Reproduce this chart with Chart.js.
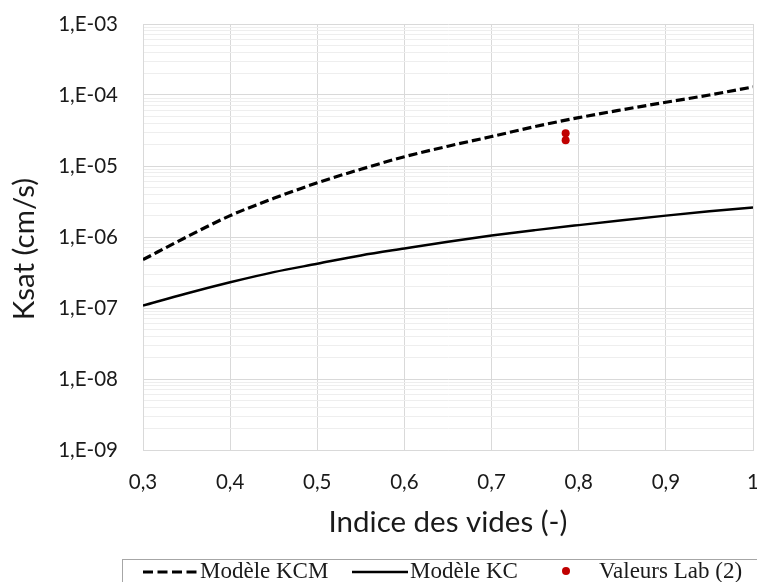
<!DOCTYPE html>
<html>
<head>
<meta charset="utf-8">
<script src="https://cdn.jsdelivr.net/npm/chart.js@4/dist/chart.umd.min.js"></script>
<style>
  html, body { margin: 0; padding: 0; background: #fff; }
</style>
</head>
<body>
<canvas id="chartKsat" width="757" height="582"></canvas>
<script>
// indice des vides (e) and Ksat (cm/s)
const indiceVides = [0.30, 0.35, 0.40, 0.45, 0.50, 0.55, 0.60, 0.65, 0.70, 0.75, 0.80, 0.85, 0.90, 0.95, 1.00];
const ksatKCM = [4.8e-7, 1.0e-6, 2.0e-6, 3.5e-6, 5.8e-6, 9.0e-6, 1.35e-5, 1.9e-5, 2.6e-5, 3.6e-5, 4.8e-5, 6.2e-5, 7.9e-5, 1.0e-4, 1.3e-4];
const ksatKC = [1.08e-7, 1.6e-7, 2.3e-7, 3.2e-7, 4.2e-7, 5.5e-7, 6.9e-7, 8.6e-7, 1.05e-6, 1.25e-6, 1.47e-6, 1.72e-6, 2.0e-6, 2.3e-6, 2.6e-6];
const labIndice = [0.785, 0.785];
const labKsat = [2.9e-5, 2.3e-5];

const xTicks = [0.3, 0.4, 0.5, 0.6, 0.7, 0.8, 0.9, 1.0];
const xTickLabels = ['0,3', '0,4', '0,5', '0,6', '0,7', '0,8', '0,9', '1'];
const yTicks = [1e-9, 1e-8, 1e-7, 1e-6, 1e-5, 1e-4, 1e-3];
const yTickLabels = ['1,E-09', '1,E-08', '1,E-07', '1,E-06', '1,E-05', '1,E-04', '1,E-03'];

const seriesNames = ['Modèle KCM', 'Modèle KC', 'Valeurs Lab (2)'];
const xTitle = 'Indice des vides (-)';
const yTitle = 'Ksat (cm/s)';

const TEXT = '#1a1a1a';
const GRID = '#d9d9d9';
const GRID_MINOR = '#eeeeee';

function toPoints(xs, ys) {
  return xs.map((x, i) => ({ x: x, y: ys[i] }));
}

function majorIndex(v) {
  for (var i = 0; i < yTicks.length; i++) {
    if (Math.abs(v / yTicks[i] - 1) < 1e-6) return i;
  }
  return -1;
}

// y title and the boxed legend at the bottom, drawn by hand
const extras = {
  id: 'extras',
  afterDraw(chart) {
    const ctx = chart.ctx;
    const ds = chart.data.datasets;
    ctx.save();

    ctx.fillStyle = TEXT;
    ctx.font = '29.5px Lato';
    ctx.textAlign = 'center';
    ctx.textBaseline = 'middle';
    ctx.translate(24, 249);
    ctx.rotate(-Math.PI / 2);
    ctx.fillText(yTitle, 0, 0);
    ctx.setTransform(1, 0, 0, 1, 0, 0);

    ctx.strokeStyle = '#a6a6a6';
    ctx.lineWidth = 1;
    ctx.strokeRect(122.5, 559.5, 660, 40);

    ctx.font = '23px "Liberation Serif"';
    ctx.textAlign = 'left';
    ctx.textBaseline = 'alphabetic';

    ctx.strokeStyle = ds[0].borderColor;
    ctx.lineWidth = 3;
    ctx.setLineDash([10, 4.5]);
    ctx.beginPath(); ctx.moveTo(143, 572); ctx.lineTo(198, 572); ctx.stroke();
    ctx.setLineDash([]);
    ctx.fillText(seriesNames[0], 200, 578);

    ctx.strokeStyle = ds[1].borderColor;
    ctx.lineWidth = 2.5;
    ctx.beginPath(); ctx.moveTo(352, 572); ctx.lineTo(408, 572); ctx.stroke();
    ctx.fillText(seriesNames[1], 410, 578);

    ctx.fillStyle = ds[2].backgroundColor;
    ctx.beginPath(); ctx.arc(566, 571, 4, 0, Math.PI * 2); ctx.fill();
    ctx.fillStyle = TEXT;
    ctx.fillText(seriesNames[2], 599, 578);

    ctx.restore();
  }
};

new Chart(document.getElementById('chartKsat'), {
  type: 'scatter',
  data: {
    datasets: [
      {
        label: seriesNames[0],
        data: toPoints(indiceVides, ksatKCM),
        showLine: true,
        borderColor: '#000000',
        backgroundColor: '#000000',
        borderWidth: 3.2,
        borderDash: [9, 4],
        pointRadius: 0,
        cubicInterpolationMode: 'monotone',
        order: 2
      },
      {
        label: seriesNames[1],
        data: toPoints(indiceVides, ksatKC),
        showLine: true,
        borderColor: '#000000',
        backgroundColor: '#000000',
        borderWidth: 2.5,
        pointRadius: 0,
        cubicInterpolationMode: 'monotone',
        order: 2
      },
      {
        label: seriesNames[2],
        data: toPoints(labIndice, labKsat),
        backgroundColor: '#c00000',
        borderColor: '#c00000',
        borderWidth: 0,
        pointRadius: 4,
        order: 1
      }
    ]
  },
  options: {
    responsive: false,
    animation: false,
    devicePixelRatio: 1,
    layout: { padding: { left: 0, top: 24, right: 4, bottom: 42 } },
    plugins: {
      legend: { display: false },
      tooltip: { enabled: false }
    },
    scales: {
      x: {
        type: 'linear',
        min: 0.3,
        max: 1.0,
        afterBuildTicks: function (scale) {
          scale.ticks = xTicks.map(v => ({ value: v }));
        },
        afterFit: function (scale) {
          scale.height = 90;
          scale.paddingLeft = 0;
          scale.paddingRight = 0;
        },
        ticks: {
          autoSkip: false,
          maxRotation: 0,
          padding: 20,
          color: TEXT,
          font: { family: 'Lato', size: 20.5 },
          callback: function (v, i) { return xTickLabels[i]; }
        },
        grid: { color: GRID, lineWidth: 1, drawTicks: false },
        border: { color: GRID, width: 1 },
        title: {
          display: true,
          text: xTitle,
          color: TEXT,
          font: { family: 'Lato', size: 29.5 },
          padding: { top: 0, bottom: 0 }
        }
      },
      y: {
        type: 'logarithmic',
        min: 1e-9,
        max: 1e-3,
        afterBuildTicks: function (scale) {
          var t = [];
          for (var i = 0; i < yTicks.length; i++) {
            t.push({ value: yTicks[i] });
            if (i < yTicks.length - 1) {
              for (var m = 2; m <= 9; m++) t.push({ value: yTicks[i] * m });
            }
          }
          scale.ticks = t;
        },
        afterFit: function (scale) {
          scale.width = 143;
          scale.paddingTop = 0;
          scale.paddingBottom = 0;
        },
        ticks: {
          autoSkip: false,
          padding: 25,
          color: TEXT,
          font: { family: 'Lato', size: 20.5 },
          callback: function (v) {
            var k = majorIndex(v);
            return k >= 0 ? yTickLabels[k] : '';
          }
        },
        grid: {
          drawTicks: false,
          color: function (c) {
            return c.tick && majorIndex(c.tick.value) >= 0 ? GRID : GRID_MINOR;
          },
          lineWidth: 1
        },
        border: { color: GRID, width: 1 },
        title: { display: false }
      }
    }
  },
  plugins: [extras]
});
</script>
</body>
</html>
